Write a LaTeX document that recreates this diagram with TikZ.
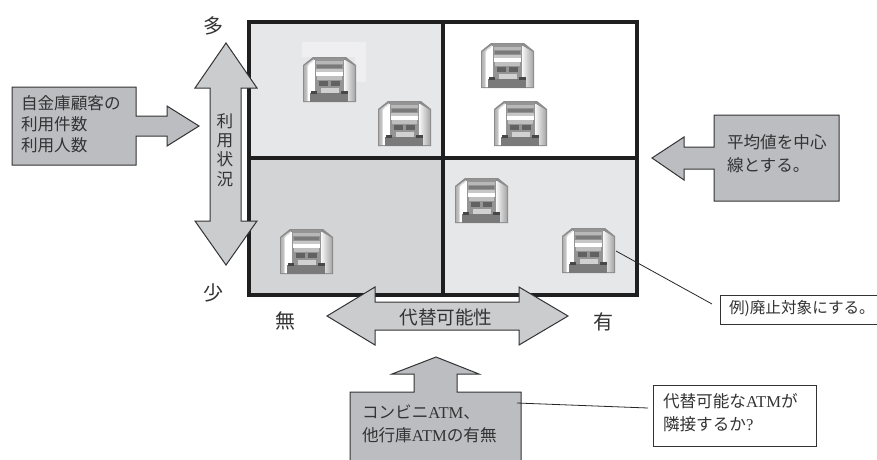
\documentclass[tikz,border=0pt]{standalone}
\usepackage{fontspec}
\setmainfont{Noto Sans CJK JP}
\newfontfamily\latinser{Liberation Serif}
\newcommand{\ltn}[1]{{\latinser #1}}
\definecolor{ink}{HTML}{333335}
\definecolor{boxgray}{HTML}{BCBDC0}
\definecolor{arrowgray}{HTML}{CBCCCE}
\definecolor{lightq}{HTML}{E6E7E9}
\definecolor{darkq}{HTML}{D3D4D6}
\tikzset{
  x=1pt,y=-1pt,
  frameline/.style={draw=black!88,line width=3.4pt},
  arrowshape/.style={draw=ink,line width=1pt,fill=arrowgray,line join=miter},
  boxshape/.style={draw=ink,line width=1pt,fill=boxgray,line join=miter},
  leader/.style={draw=black!85,line width=0.8pt},
  txt/.style={inner sep=0pt,outer sep=0pt,anchor=north west,align=left,text=ink,font=\fontsize{16.6}{20.8}\selectfont},
  bigtxt/.style={inner sep=0pt,outer sep=0pt,text=ink,font=\fontsize{20}{24}\selectfont},
  calloutbox/.style={draw=ink,line width=1pt,fill=white,inner sep=0pt,anchor=north west},
}
\newcommand{\atmicon}[2]{%
\begin{scope}[shift={(#1,#2)}]
  % side panels
  \fill[black!45] (0,8) -- (10,0) -- (43,0) -- (53,8) -- (53,45) -- (0,45) -- cycle;
  \path[left color=black!30,right color=white] (1,9) -- (11,2) -- (5,9) -- (5,44) -- (1,44) -- cycle;
  \fill[white] (4.5,9) -- (11,3) -- (13,3) -- (13,44) -- (4.5,44) -- cycle;
  \path[left color=white,right color=black!35] (40,3) -- (42,3) -- (52,9) -- (52,44) -- (40,44) -- cycle;
  % body
  \fill[black!42] (12,1) rectangle (41,36);
  \fill[black!28] (13,4) rectangle (40,7);
  \fill[black!52] (14,8) rectangle (39,11);
  \fill[black!22] (13,12) rectangle (40,15);
  \fill[white] (13,15) rectangle (40,19);
  \fill[black!25] (14,19) rectangle (39,23);
  \fill[black!62] (16,24) rectangle (25,29);
  \fill[black!62] (28,24) rectangle (37,29);
  \fill[black!18] (18,31) rectangle (36,36);
  % base
  \fill[black!52] (7,36) rectangle (45,45);
  \fill[black!72] (8,34) rectangle (14,37);
  \fill[black!72] (38,34) rectangle (45,37);
\end{scope}}
\begin{document}
\begin{tikzpicture}
\useasboundingbox (0,0) rectangle (877,459);
% quadrants
\fill[lightq] (249,22) rectangle (443,158);
\fill[darkq] (249,158) rectangle (443,295);
\fill[lightq] (443,158) rectangle (637,295);
% faint halo
\fill[white!35!lightq] (302,42) rectangle (366,57);
\fill[white!35!lightq] (355,57) rectangle (366,82);
% icons
\atmicon{303}{57}
\atmicon{378}{101}
\atmicon{481}{43}
\atmicon{494}{101}
\atmicon{455}{178}
\atmicon{562}{228}
\atmicon{280}{229}
% frame
\draw[frameline] (249,22) rectangle (637,295);
\draw[frameline] (249,158) -- (637,158);
\draw[frameline] (443,22) -- (443,297);
% arrows
\draw[arrowshape] (226,43) -- (257,88) -- (241,88) -- (241,221) -- (257,221) -- (226,265) -- (195,221) -- (210,221) -- (210,88) -- (195,88) -- cycle;
\draw[arrowshape] (327,316) -- (375,287) -- (375,302) -- (519,302) -- (519,287) -- (568,316) -- (519,345) -- (519,330) -- (375,330) -- (375,345) -- cycle;
\draw[boxshape] (12,87) -- (136,87) -- (136,116) -- (167,116) -- (167,106) -- (199,126) -- (167,146) -- (167,136) -- (136,136) -- (136,165) -- (12,165) -- cycle;
\draw[boxshape] (839,115) -- (839,201) -- (714,201) -- (714,169) -- (684,169) -- (684,180) -- (652,158) -- (684,137) -- (684,147) -- (714,147) -- (714,115) -- cycle;
\draw[boxshape] (350,462) -- (350,392) -- (414,392) -- (414,374) -- (392,374) -- (436,357) -- (479,374) -- (457,374) -- (457,392) -- (521,392) -- (521,462);
% labels
\node[bigtxt] (many) at (213,26) {多};
\node[bigtxt] (few) at (213,293) {少};
\node[bigtxt] (none) at (285,321) {無};
\node[bigtxt] (have) at (603,322) {有};
\node[txt,anchor=center,align=center,font=\fontsize{16.6}{19.4}\selectfont] (usage) at (225,150) {利\\用\\状\\況};
\node[txt,anchor=center,font=\fontsize{18.6}{22}\selectfont] (alt) at (446,317) {代替可能性};
\node[txt] (lefttext) at (21,96) {自金庫顧客の\\利用件数\\利用人数};
\node[txt,font=\fontsize{16.6}{23}\selectfont] (righttext) at (727,135) {平均値を中心\\線とする。};
\node[txt,font=\fontsize{16.6}{23}\selectfont] (bottomtext) at (362,405) {コンビニ\ltn{ATM}、\\他行庫\ltn{ATM}の有無};
% callouts
\node[calloutbox,minimum width=160pt,minimum height=29pt] (examplebox) at (720,295) {};
\node[txt,anchor=west,font=\fontsize{15.6}{20}\selectfont] (exampletext) at (729,308) {例)廃止対象にする。};
\node[calloutbox,minimum width=163pt,minimum height=61pt] (altbox) at (653,385) {};
\node[txt,font=\fontsize{16.6}{23}\selectfont] (alttext) at (663,393) {代替可能な\ltn{ATM}が\\隣接するか\ltn{?}};
% connectors
\coordinate (iconpoint) at (616,251);
\coordinate (exampleend) at (712,304);
\coordinate (boxpoint) at (517,403);
\coordinate (altend) at (648,408);
\draw[leader] (iconpoint) -- (exampleend);
\draw[leader] (boxpoint) -- (altend);
\end{tikzpicture}
\end{document}
